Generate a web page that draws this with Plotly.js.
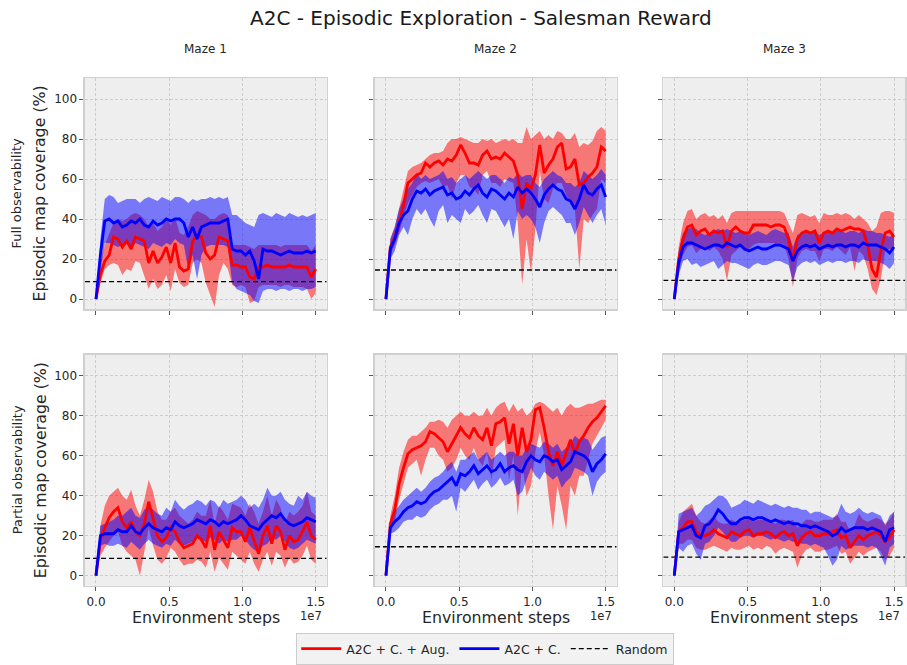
<!DOCTYPE html>
<html>
<head>
<meta charset="utf-8">
<script src="https://cdn.plot.ly/plotly-3.0.1.min.js"></script>
<style>html,body{margin:0;padding:0;background:#fff;}#chart{width:907px;height:665px;}</style>
</head>
<body>
<div id="chart"></div>
<script>
// ---------------- DATA ----------------
const mazeNames = ["Maze 1", "Maze 2", "Maze 3"];
const rowNames = ["Full observability", "Partial observability"];
const seriesNames = ["A2C + C. + Aug.", "A2C + C.", "Random"];
const xTickVals = [0, 5e6, 1e7, 1.5e7];
const xTickText = ["0.0", "0.5", "1.0", "1.5"];
const yTickVals = [0, 20, 40, 60, 80, 100];
const yTickText = ["0", "20", "40", "60", "80", "100"];
// environment steps, in millions
const stepsM = [0,0.3,0.6,0.9,1.2,1.5,1.8,2.1,2.4,2.7,3.0,3.3,3.6,3.9,4.2,4.5,4.8,5.1,5.4,5.7,6.0,6.3,6.6,6.9,7.2,7.5,7.8,8.1,8.4,8.7,9.0,9.3,9.6,9.9,10.2,10.5,10.8,11.1,11.4,11.7,12.0,12.3,12.6,12.9,13.2,13.5,13.8,14.1,14.4,14.7,15.0];
const randomLevel = [8.7, 14.5, 9.3];

// Full observability, Maze 1
const fullM1AugMean  = [0,12,19,22,31,30,26,29,25,31,30,29,18,24,18,21,26,18,28,16,14,15,29,32,31,23,20,22,31,30,29,17,17,16,16,11,10,16,16,17,16,16,16,16,17,16,16,16,16,11,15];
const fullM1AugUpper = [0,18,27,33,38,40,39,40,42,43,42,40,36,38,34,36,40,37,41,33,32,36,42,44,43,42,40,40,42,43,42,27,27,27,27,26,25,27,27,27,27,27,26,27,27,27,27,27,27,24,27];
const fullM1AugLower = [0,8,15,17,18,17,12,15,14,19,18,12,5,10,5,7,12,4,15,8,6,7,18,20,18,8,2,-4,12,18,15,7,6,7,6,-2,-1,6,7,7,7,7,6,7,7,6,6,6,5,0,3];
const fullM1CMean    = [0,22,39,40,38,39,36,37,39,38,40,37,36,39,37,38,40,39,40,40,38,31,36,30,36,37,38,38,38,39,40,25,24,24,22,24,19,10,25,24,24,23,22,23,24,23,23,23,24,23,24];
const fullM1CUpper   = [0,30,50,52,51,48,49,50,50,50,48,50,51,50,49,51,50,49,51,51,50,48,50,49,50,50,51,50,51,50,51,42,42,40,38,37,36,42,43,42,41,43,42,41,43,42,41,42,41,42,43];
const fullM1CLower   = [0,15,28,28,27,26,27,28,25,28,27,26,25,28,27,26,28,27,30,28,27,15,22,10,22,26,27,27,27,27,26,8,5,4,3,2,-1,-2,4,5,5,4,5,5,4,5,5,4,5,5,6];

// Full observability, Maze 2
const fullM2AugMean  = [0,26,31,38,47,58,60,62,63,68,66,68,69,67,70,69,72,77,73,68,68,67,72,74,70,71,70,73,71,69,62,45,58,55,62,77,63,67,70,76,78,65,66,70,57,58,61,63,66,76,74];
const fullM2AugUpper = [0,30,36,45,55,64,66,67,68,70,72,73,73,74,78,80,80,81,80,79,78,78,80,79,80,78,79,80,79,80,78,78,86,80,82,84,80,82,80,84,83,80,80,83,76,78,77,79,84,86,84];
const fullM2AugLower = [0,22,27,33,41,48,52,56,58,59,58,59,60,56,57,50,58,62,62,56,55,52,62,64,58,58,56,60,59,58,38,7,30,13,35,64,50,48,55,58,58,52,48,45,15,40,38,42,45,60,58];
const fullM2CMean    = [0,25,30,38,42,44,50,54,53,55,52,54,55,56,52,53,50,51,54,52,55,57,53,51,55,54,52,50,53,51,56,53,55,53,50,46,52,55,57,55,54,50,49,45,50,57,53,52,55,57,51];
const fullM2CUpper   = [0,30,36,45,50,55,58,63,60,62,60,61,62,64,60,61,58,60,62,60,62,64,62,60,62,62,60,58,61,60,63,61,62,62,58,56,60,62,64,62,61,58,58,56,58,64,62,60,62,65,62];
const fullM2CLower   = [0,20,24,32,36,32,40,45,42,45,40,36,44,47,38,42,40,38,45,42,44,47,42,38,45,44,40,36,40,30,44,40,42,40,36,28,38,44,46,44,42,38,38,32,38,46,42,38,42,45,37];

// Full observability, Maze 3
const fullM3AugMean  = [0,20,30,36,37,32,34,35,32,34,33,34,26,34,36,34,33,33,37,37,37,37,36,37,37,36,30,19,30,33,34,33,34,28,33,34,33,35,34,35,36,35,35,34,27,15,11,24,33,34,31];
const fullM3AugUpper = [0,26,38,44,45,40,42,43,41,42,40,42,38,43,44,44,44,44,44,44,44,44,44,44,44,43,38,33,42,43,42,41,42,38,43,42,42,43,42,43,42,40,42,40,38,34,36,43,44,44,43];
const fullM3AugLower = [0,14,22,26,27,23,25,26,24,26,24,20,9,22,24,26,24,25,27,28,28,28,28,28,28,27,20,6,20,24,25,24,24,19,25,25,24,26,24,22,26,14,24,22,15,5,2,10,24,25,24];
const fullM3CMean    = [0,18,26,28,28,27,26,25,26,27,27,26,28,27,26,27,25,24,25,26,25,25,26,27,27,26,25,19,24,26,27,26,27,25,26,27,26,27,27,26,27,27,26,28,27,27,27,26,25,23,26];
const fullM3CUpper   = [0,24,33,35,36,35,33,32,33,34,35,34,35,34,33,34,33,32,33,34,33,32,34,35,34,33,33,26,32,33,34,33,34,32,33,34,33,34,34,33,34,34,33,35,34,34,33,33,32,31,33];
const fullM3CLower   = [0,12,19,20,17,18,16,17,18,19,15,17,19,18,18,17,16,15,17,18,17,17,18,19,19,18,17,9,16,18,19,18,19,17,18,19,18,19,19,18,19,19,18,20,19,19,19,18,17,15,18];

// Partial observability, Maze 1
const partM1AugMean  = [0,18,24,29,32,34,27,24,27,22,20,26,37,28,20,17,19,24,22,17,14,15,16,20,18,14,25,13,22,18,14,24,22,22,17,24,18,11,20,25,16,25,22,13,20,17,18,22,27,20,18];
const partM1AugUpper = [0,25,35,40,42,44,40,38,43,35,30,38,48,42,32,28,28,32,34,30,28,26,28,32,30,30,38,26,35,32,28,36,35,34,30,36,32,26,32,40,30,38,34,26,32,30,32,35,42,32,30];
const partM1AugLower = [0,10,14,17,20,22,15,12,10,8,0,12,24,15,8,6,9,14,12,8,5,6,6,8,7,4,12,2,9,6,3,12,10,8,6,12,6,2,8,12,5,12,10,4,9,6,7,10,15,8,6];
const partM1CMean    = [0,20,21,21,21,23,22,22,25,22,21,24,26,24,23,22,24,23,27,25,24,25,26,28,27,26,28,27,25,27,26,27,28,30,28,25,24,23,26,28,30,29,31,28,26,25,26,27,29,28,27];
const partM1CUpper   = [0,25,26,27,28,30,30,32,34,30,29,33,35,33,31,30,34,32,38,35,33,35,36,38,37,35,38,37,34,38,36,37,38,40,38,34,36,34,38,44,40,40,42,38,36,35,40,38,42,40,39];
const partM1CLower   = [0,15,16,15,15,16,15,14,17,15,13,16,18,16,15,14,16,15,18,16,15,16,17,19,18,17,19,18,16,18,17,18,18,20,18,15,13,12,15,16,19,18,20,17,14,13,14,16,18,17,16];

// Partial observability, Maze 2
const partM2AugMean  = [0,26,33,46,54,61,63,64,65,67,72,71,69,67,62,66,70,74,71,69,74,70,68,74,65,76,77,79,66,76,60,74,62,68,83,84,74,62,55,62,55,62,68,61,67,70,74,77,79,82,85];
const partM2AugUpper = [0,30,40,54,62,68,70,70,72,74,77,77,78,77,74,78,80,82,80,80,82,80,80,84,80,84,86,87,82,86,82,84,80,82,86,87,86,84,82,84,80,84,86,84,84,85,86,86,87,88,88];
const partM2AugLower = [0,22,27,38,46,54,56,58,50,58,64,64,60,58,52,54,58,64,60,58,64,58,55,62,48,64,66,68,48,60,30,56,40,45,62,72,60,40,23,45,35,23,45,40,50,50,58,66,70,74,78];
const partM2CMean    = [0,24,27,29,32,34,35,37,36,37,40,42,43,45,47,49,45,51,50,52,55,51,53,55,52,53,56,52,54,55,53,52,57,60,58,57,60,59,57,58,53,55,57,62,61,60,58,52,56,58,61];
const partM2CUpper   = [0,27,32,35,38,40,42,44,42,44,47,49,50,52,55,57,52,58,58,60,62,58,60,62,58,60,62,60,62,62,60,60,64,66,65,64,67,66,64,66,62,64,66,70,68,69,68,63,66,69,70];
const partM2CLower   = [0,21,22,24,27,28,28,30,29,30,33,35,36,38,38,40,32,44,42,45,48,43,46,48,44,46,49,45,46,48,40,42,48,54,50,48,52,50,48,50,44,47,49,54,53,52,50,40,47,50,52];

// Partial observability, Maze 3
const partM3AugMean  = [0,22,24,27,27,22,20,20,21,23,21,20,19,22,21,20,22,23,20,21,21,22,21,19,21,22,20,21,15,19,21,22,20,20,21,21,22,23,19,20,14,17,20,18,20,21,22,20,17,19,23];
const partM3AugUpper = [0,27,32,34,36,30,27,26,28,30,27,26,26,28,27,27,28,30,27,28,28,28,27,26,28,28,27,28,24,26,28,28,27,27,28,28,28,31,27,27,22,25,31,28,27,28,29,28,26,28,32];
const partM3AugLower = [0,16,16,18,18,14,13,13,14,15,14,13,12,14,13,13,14,15,13,14,13,15,14,11,13,14,13,12,4,10,13,14,12,12,13,13,14,15,11,12,6,9,12,10,12,13,14,12,8,10,14];
const partM3CMean    = [0,22,23,24,25,20,19,25,26,29,33,31,28,26,26,28,29,29,28,29,29,28,27,28,27,26,27,26,26,25,25,24,25,24,23,22,20,21,24,22,23,24,24,24,23,24,23,22,17,23,24];
const partM3CUpper   = [0,31,32,33,34,30,32,35,36,38,40,40,38,34,35,36,38,37,36,38,37,36,35,36,35,34,35,34,34,33,33,31,32,32,31,30,29,30,36,32,31,32,34,32,31,32,31,30,25,30,32];
const partM3CLower   = [0,14,12,15,16,11,8,16,17,20,24,22,19,17,17,19,20,20,19,20,20,19,18,19,18,17,18,17,17,16,16,15,16,15,14,10,5,8,15,13,14,15,15,15,14,15,14,10,5,14,16];

// ---------------- BUILD ----------------
const panels = [
  [fullM1AugMean, fullM1AugUpper, fullM1AugLower, fullM1CMean, fullM1CUpper, fullM1CLower],
  [fullM2AugMean, fullM2AugUpper, fullM2AugLower, fullM2CMean, fullM2CUpper, fullM2CLower],
  [fullM3AugMean, fullM3AugUpper, fullM3AugLower, fullM3CMean, fullM3CUpper, fullM3CLower],
  [partM1AugMean, partM1AugUpper, partM1AugLower, partM1CMean, partM1CUpper, partM1CLower],
  [partM2AugMean, partM2AugUpper, partM2AugLower, partM2CMean, partM2CUpper, partM2CLower],
  [partM3AugMean, partM3AugUpper, partM3AugLower, partM3CMean, partM3CUpper, partM3CLower]
];
panels.forEach((p, i) => p.forEach((a, j) => {
  if (a.length !== stepsM.length) throw new Error("length mismatch panel " + i + " series " + j + ": " + a.length);
}));

const steps = stepsM.map(v => v * 1e6);
const xRange = [-0.75e6, 15.75e6];
const yRange = [-5, 110.5];
const RED = "#ff0000", BLUE = "#0000ff";
const RED_FILL = "rgba(255,0,0,0.5)", BLUE_FILL = "rgba(0,0,255,0.5)";

const colDomains = [[0.0937, 0.3602], [0.4134, 0.6799], [0.7313, 0.9978]];
const rowDomains = [[0.5353, 0.8827], [0.1192, 0.4666]];

const traces = [];
const layout = {
  width: 907, height: 665,
  margin: {l: 0, r: 0, t: 0, b: 0},
  paper_bgcolor: "#ffffff",
  plot_bgcolor: "#eeeeee",
  font: {family: "DejaVu Sans, sans-serif", color: "#262626", size: 12},
  showlegend: true,
  legend: {
    orientation: "h", x: 0.535, xanchor: "center", y: 0.0, yanchor: "bottom",
    bgcolor: "#f2f2f2", bordercolor: "#cccccc", borderwidth: 1,
    font: {size: 12.5, color: "#262626"}, itemwidth: 40, tracegroupgap: 0
  },
  annotations: [],
  hovermode: false
};

const band = (x, up, lo) => ({x: x.concat(x.slice().reverse()), y: up.concat(lo.slice().reverse())});

for (let k = 0; k < 6; k++) {
  const r = Math.floor(k / 3), c = k % 3;
  const sfx = k === 0 ? "" : String(k + 1);
  const xa = "x" + sfx, ya = "y" + sfx;
  const [am, au, al, cm, cu, cl] = panels[k];
  const rb = band(steps, au, al), bb = band(steps, cu, cl);
  traces.push({x: rb.x, y: rb.y, xaxis: xa, yaxis: ya, type: "scatter", mode: "lines", fill: "toself",
    fillcolor: RED_FILL, line: {width: 0}, showlegend: false, hoverinfo: "skip"});
  traces.push({x: bb.x, y: bb.y, xaxis: xa, yaxis: ya, type: "scatter", mode: "lines", fill: "toself",
    fillcolor: BLUE_FILL, line: {width: 0}, showlegend: false, hoverinfo: "skip"});
  traces.push({x: xRange, y: [randomLevel[c], randomLevel[c]], xaxis: xa, yaxis: ya, type: "scatter", mode: "lines",
    line: {color: "#000000", width: 1.4, dash: "5px,3px"}, name: seriesNames[2], legendgroup: "rnd",
    showlegend: k === 0, legendrank: 3});
  traces.push({x: steps, y: am, xaxis: xa, yaxis: ya, type: "scatter", mode: "lines",
    line: {color: RED, width: 2.8}, name: seriesNames[0], legendgroup: "aug", showlegend: k === 0, legendrank: 1});
  traces.push({x: steps, y: cm, xaxis: xa, yaxis: ya, type: "scatter", mode: "lines",
    line: {color: BLUE, width: 2.8}, name: seriesNames[1], legendgroup: "c", showlegend: k === 0, legendrank: 2});

  const common = {
    showline: true, mirror: true, linecolor: "#d0d0d0", linewidth: 1.5,
    showgrid: true, gridcolor: "#c4c4c4", griddash: "3px,2px", gridwidth: 0.8,
    zeroline: false, ticks: "outside", ticklen: 4, tickwidth: 1, tickcolor: "#555555",
    tickfont: {size: 12, color: "#262626"}, fixedrange: true
  };
  layout["xaxis" + sfx] = Object.assign({}, common, {
    domain: colDomains[c], anchor: ya, range: xRange,
    tickmode: "array", tickvals: xTickVals, ticktext: xTickText, showticklabels: r === 1
  });
  layout["yaxis" + sfx] = Object.assign({}, common, {
    domain: rowDomains[r], anchor: xa, range: yRange,
    tickmode: "array", tickvals: yTickVals, ticktext: yTickText, showticklabels: c === 0
  });
}

const ann = layout.annotations;
ann.push({text: "A2C - Episodic Exploration - Salesman Reward", x: 0.530, y: 1 - 18 / 665, xref: "paper", yref: "paper",
  xanchor: "center", yanchor: "middle", showarrow: false, font: {size: 20, color: "#1a1a1a"}});
for (let c = 0; c < 3; c++) {
  const cx = (colDomains[c][0] + colDomains[c][1]) / 2;
  ann.push({text: mazeNames[c], x: cx, y: 1 - 49 / 665, xref: "paper", yref: "paper",
    xanchor: "center", yanchor: "middle", showarrow: false, font: {size: 12, color: "#262626"}});
  ann.push({text: "Environment steps", x: cx, y: 1 - 617 / 665, xref: "paper", yref: "paper",
    xanchor: "center", yanchor: "middle", showarrow: false, font: {size: 15.8, color: "#262626"}});
  ann.push({text: "1e7", x: colDomains[c][1] - 3 / 907, y: 1 - 616 / 665, xref: "paper", yref: "paper",
    xanchor: "right", yanchor: "middle", showarrow: false, font: {size: 11.5, color: "#262626"}});
}
for (let r = 0; r < 2; r++) {
  const cy = (rowDomains[r][0] + rowDomains[r][1]) / 2;
  ann.push({text: "Episodic map coverage (%)", x: 40 / 907, y: cy, xref: "paper", yref: "paper",
    xanchor: "center", yanchor: "middle", textangle: -90, showarrow: false, font: {size: 15.8, color: "#262626"}});
  ann.push({text: rowNames[r], x: 17 / 907, y: cy, xref: "paper", yref: "paper",
    xanchor: "center", yanchor: "middle", textangle: -90, showarrow: false, font: {size: 13, color: "#262626"}});
}

Plotly.newPlot("chart", traces, layout, {staticPlot: true, displayModeBar: false});
</script>
</body>
</html>
